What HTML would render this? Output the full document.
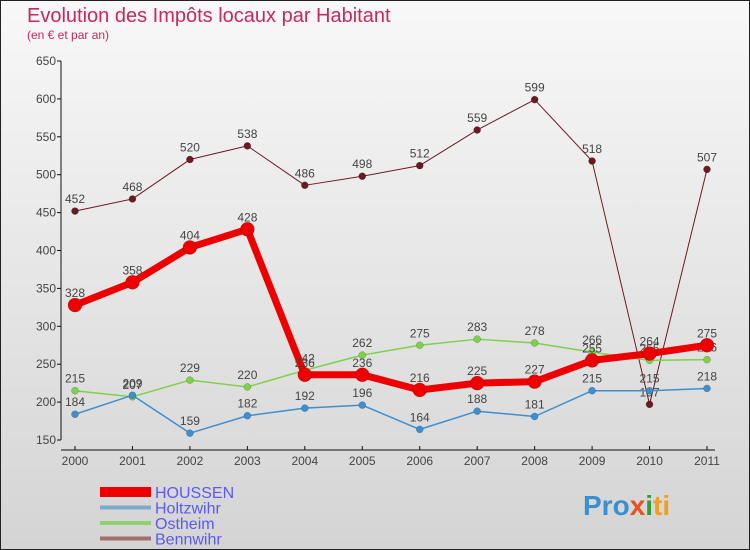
<!DOCTYPE html>
<html><head><meta charset="utf-8">
<style>
body{margin:0;}
#wrap{width:750px;height:550px;position:relative;overflow:hidden;background:linear-gradient(#f8f8f8,#d4d4d4);font-family:"Liberation Sans","DejaVu Sans",sans-serif;}
svg text{font-family:"Liberation Sans","DejaVu Sans",sans-serif;}
</style></head><body>
<div id="wrap">
<svg id="chart" width="750" height="550">
<rect x="0.5" y="0.5" width="749" height="549" fill="none" stroke="#222"/>
<text x="27" y="22" font-size="20" fill="#c8285c">Evolution des Impôts locaux par Habitant</text>
<text x="27" y="39" font-size="12" fill="#c8285c">(en € et par an)</text>
<g id="axes"></g>
<g id="series"></g>
<g id="legend"></g>
<text x="583" y="515" font-size="28" font-weight="bold" fill="#3a8fd0">Pro<tspan fill="#e8501e">x</tspan><tspan fill="#2f9f3a">i</tspan><tspan fill="#f0a020">ti</tspan></text>
</svg>
</div>
<script>
const years=["2000","2001","2002","2003","2004","2005","2006","2007","2008","2009","2010","2011"];
const yTicks=[150,200,250,300,350,400,450,500,550,600,650];
const houssen=[328,358,404,428,236,236,216,225,227,255,264,275];
const holtzwihr=[184,209,159,182,192,196,164,188,181,215,215,218];
const ostheim=[215,207,229,220,242,262,275,283,278,266,255,256];
const bennwihr=[452,468,520,538,486,498,512,559,599,518,197,507];
const seriesNames=["HOUSSEN","Holtzwihr","Ostheim","Bennwihr"];

const NS="http://www.w3.org/2000/svg";
function x(i){return 75+i*(707-75)/11;}
function y(v){return 440-(v-150)*(440-61)/500;}
function mk(tag,attrs,parent){const e=document.createElementNS(NS,tag);for(const k in attrs)e.setAttribute(k,attrs[k]);parent.appendChild(e);return e;}
const ax=document.getElementById('axes');
let l=mk('line',{x1:61,y1:61,x2:61,y2:440,stroke:'#111'},ax);


l=mk('line',{x1:61,y1:450,x2:715,y2:450,stroke:'#111'},ax);


yTicks.forEach(v=>{
 const t=mk('line',{x1:57,y1:y(v),x2:61,y2:y(v),stroke:'#111'},ax);
 
 
 const tx=mk('text',{x:56,y:y(v)+4,'font-size':12,fill:'#444','text-anchor':'end'},ax);
 tx.textContent=v;
 
 
});
years.forEach((yr,i)=>{
 const t=mk('line',{x1:x(i),y1:446,x2:x(i),y2:450,stroke:'#111'},ax);
 
 
 const tx=mk('text',{x:x(i),y:465,'font-size':12,fill:'#444','text-anchor':'middle'},ax);
 tx.textContent=yr;
 
 
});
const sg=document.getElementById('series');
const defs=[
 {d:bennwihr,c:'#6b1a22',w:1,r:3.5,lc:'#a07070',lw:4,n:'bennwihr'},
 {d:ostheim,c:'#7fd04a',w:1.5,r:3.5,lc:'#90d070',lw:4,n:'ostheim'},
 {d:holtzwihr,c:'#3d8fd0',w:1.5,r:3.5,lc:'#80a8c8',lw:4,n:'holtzwihr'},
 {d:houssen,c:'#ee0000',w:7,r:7,lc:'#ee0000',lw:10,n:'houssen'}
];
defs.forEach(s=>{
 const g=mk('g',{},sg);
 
 
 const p=mk('polyline',{points:s.d.map((v,i)=>x(i)+','+y(v)).join(' '),fill:'none',stroke:s.c,'stroke-width':s.w,'stroke-linejoin':'round'},g);
 
 
 s.d.forEach((v,i)=>{
  const c=mk('circle',{cx:x(i),cy:y(v),r:s.r,fill:s.c,stroke:'rgba(0,0,0,0.3)','stroke-width':0.5},g);
  
  
  const t=mk('text',{x:x(i),y:y(v)-8,'font-size':12,fill:'#444','text-anchor':'middle'},g);
  t.textContent=v;
  
  
 });
});
const lg=document.getElementById('legend');
const legOrder=[defs[3],defs[2],defs[1],defs[0]];
legOrder.forEach((s,k)=>{
 const yy=492+k*15.5;
 const ln=mk('line',{x1:100,y1:yy,x2:151,y2:yy,stroke:s.lc,'stroke-width':s.lw},lg);
 
 
 const t=mk('text',{x:155,y:yy+6,'font-size':16,fill:'#5a5af0'},lg);
 t.textContent=seriesNames[k];
 
 
});
</script>
</body></html>
